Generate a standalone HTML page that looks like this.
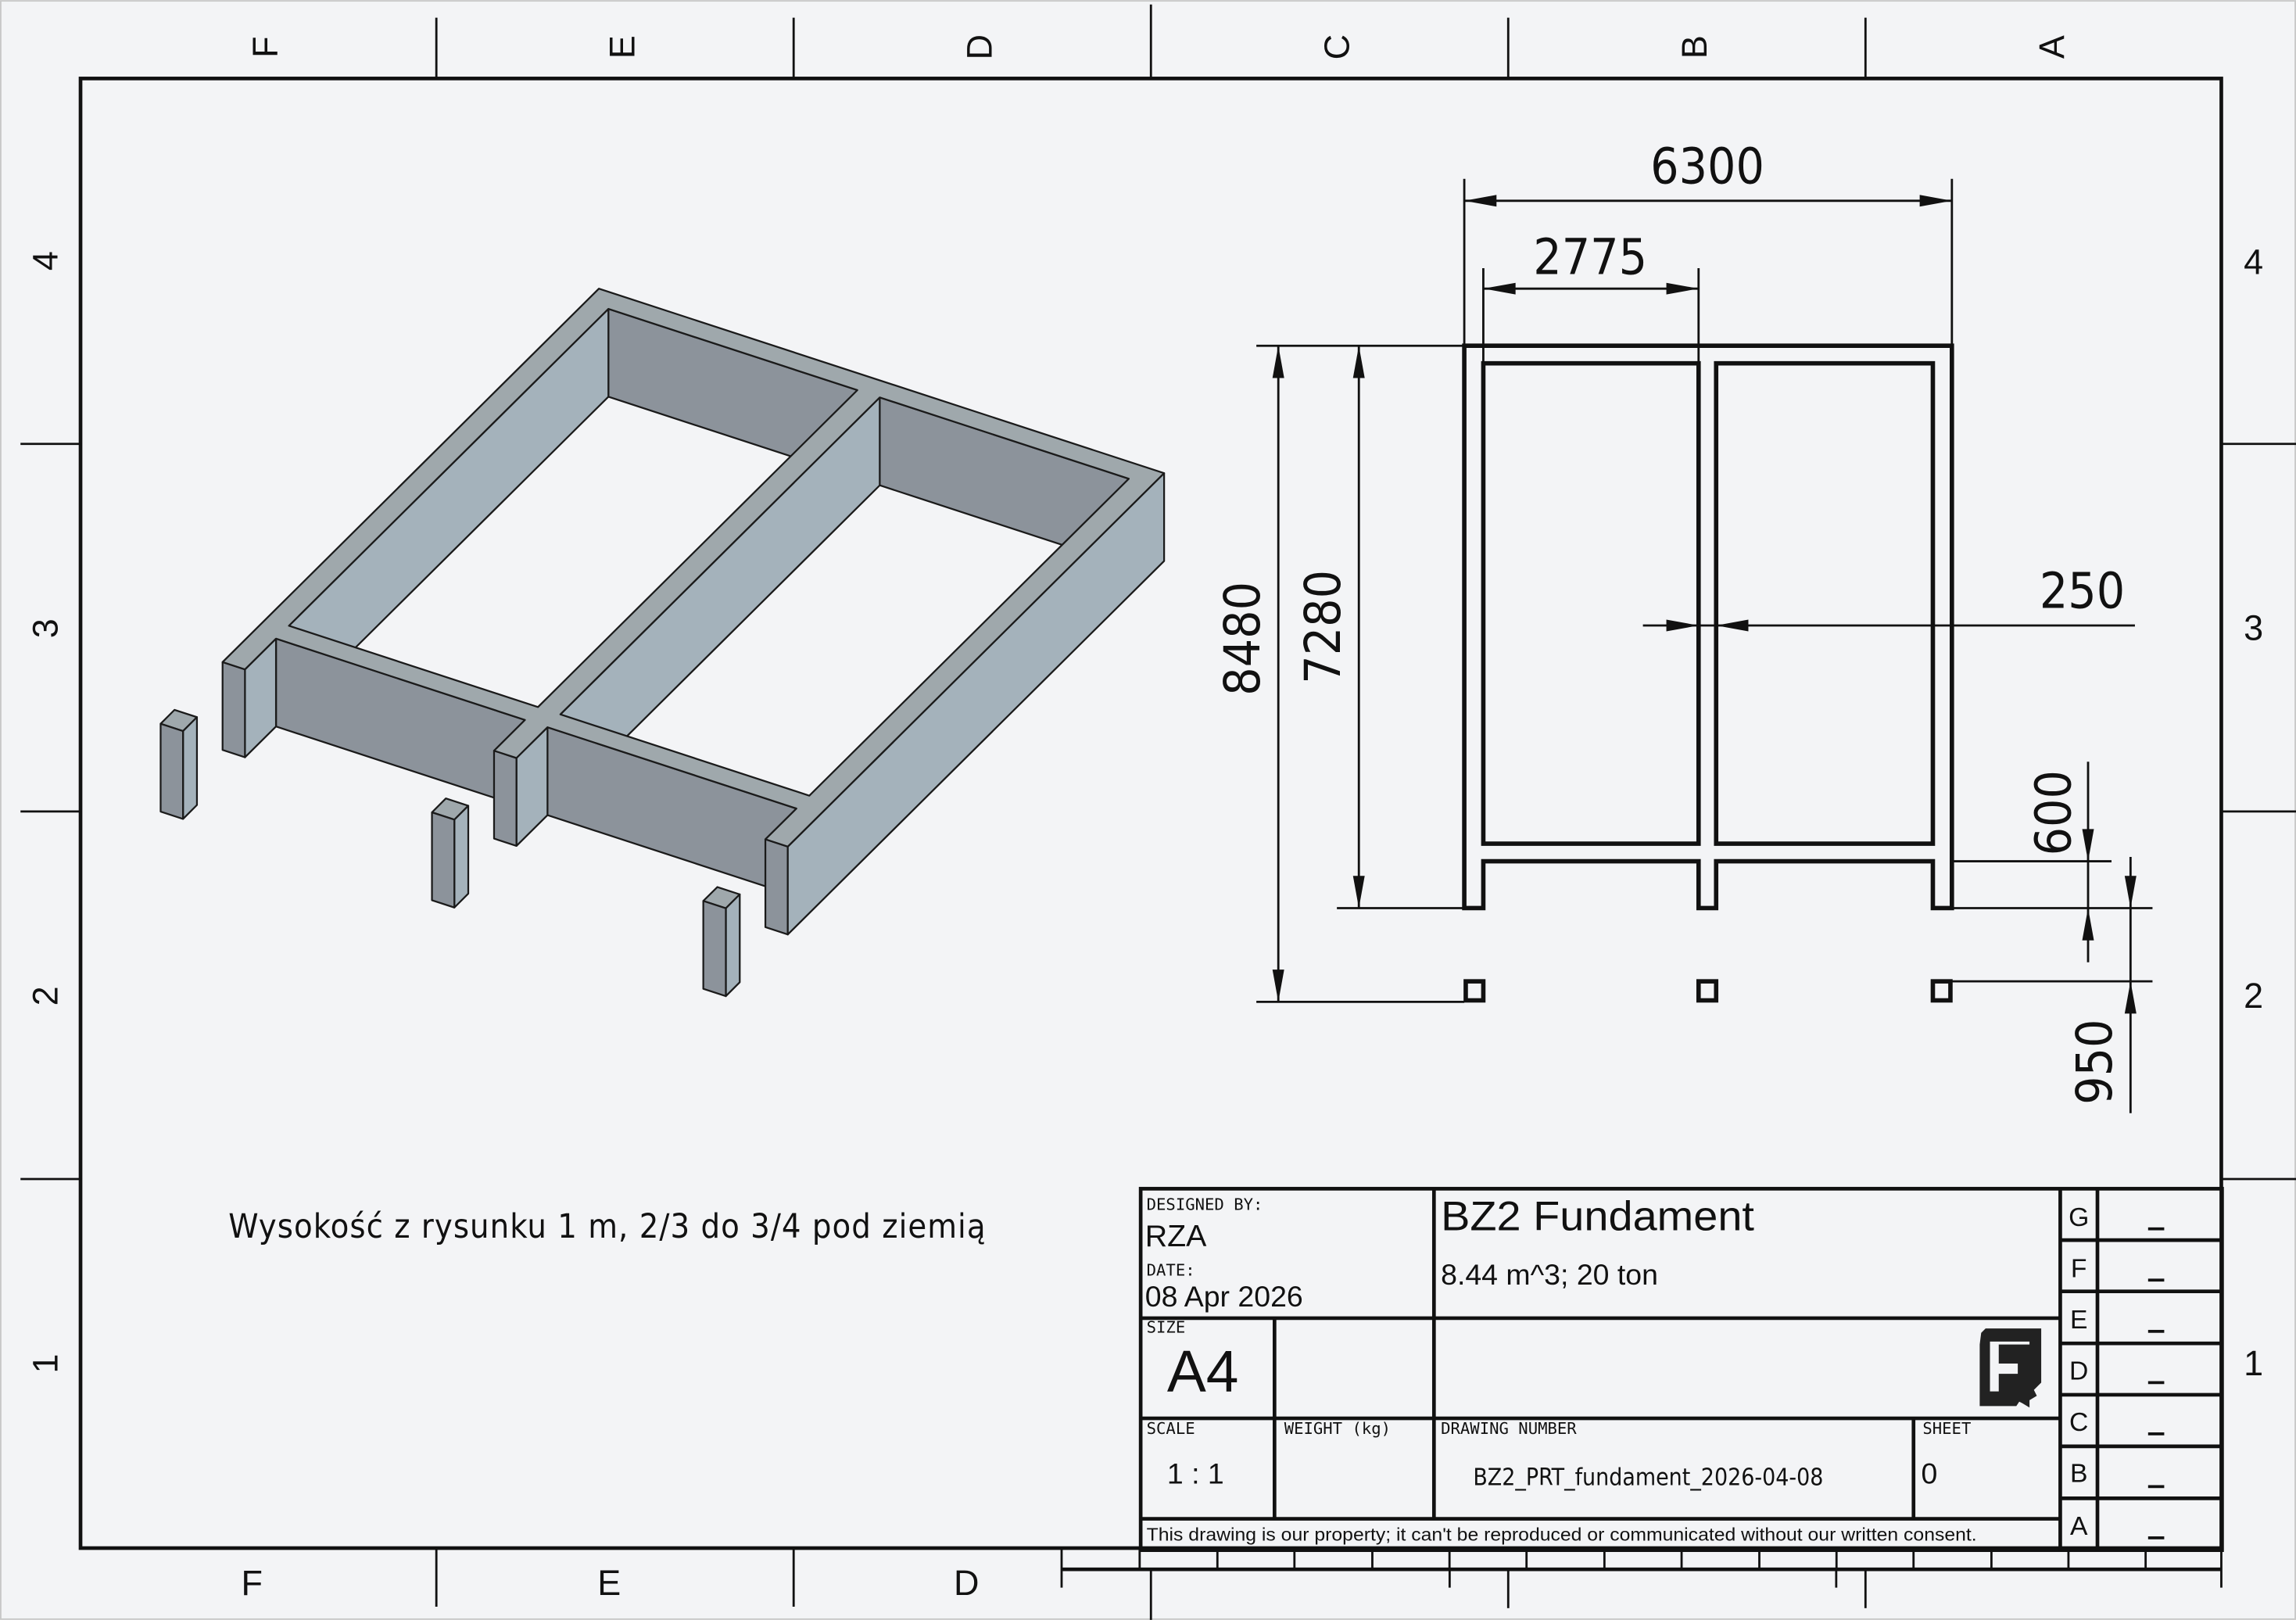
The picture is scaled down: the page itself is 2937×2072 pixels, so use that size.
<!DOCTYPE html>
<html><head><meta charset="utf-8"><style>
html,body{margin:0;padding:0;background:#f3f4f6}
svg{display:block}
.n{font-family:"DejaVu Sans Condensed","Liberation Sans Narrow","DejaVu Sans",sans-serif;fill:#111}
.s{font-family:"Liberation Sans",sans-serif;fill:#111}
.m{font-family:"DejaVu Sans Mono","Liberation Mono",monospace;fill:#111}
</style></head><body>
<svg id="sv" width="2937" height="2072" viewBox="0 0 1568 1106" xmlns="http://www.w3.org/2000/svg">
<rect x="0" y="0" width="1568" height="1106" fill="#f3f4f6"/>
<rect x="0.5" y="0.5" width="1567" height="1105" fill="none" stroke="#c8c8c8" stroke-width="1"/>
<g id="iso" stroke="#1a1a1a" stroke-width="1.2" stroke-linejoin="round"></g>
<!-- frame -->
<g stroke="#111" fill="none">
<rect x="55" y="53.5" width="1462" height="1003.5" stroke-width="2.5"/>
<g stroke-width="1.5">
<line x1="786" y1="3" x2="786" y2="53"/>
<line x1="298" y1="12" x2="298" y2="53"/><line x1="542" y1="12" x2="542" y2="53"/>
<line x1="1030" y1="12" x2="1030" y2="53"/><line x1="1274" y1="12" x2="1274" y2="53"/>
<line x1="14" y1="303" x2="55" y2="303"/><line x1="14" y1="554" x2="55" y2="554"/><line x1="14" y1="805" x2="55" y2="805"/>
<line x1="1517" y1="303" x2="1568" y2="303"/><line x1="1517" y1="554" x2="1568" y2="554"/><line x1="1517" y1="805" x2="1568" y2="805"/>
<line x1="298" y1="1057" x2="298" y2="1097"/><line x1="542" y1="1057" x2="542" y2="1097"/>
<line x1="725" y1="1057" x2="725" y2="1084"/>
<line x1="786" y1="1071" x2="786" y2="1106"/><line x1="1030" y1="1071" x2="1030" y2="1098"/><line x1="1274" y1="1071" x2="1274" y2="1098"/>
<line x1="990" y1="1071" x2="990" y2="1084"/><line x1="1254" y1="1071" x2="1254" y2="1084"/><line x1="1517" y1="1057" x2="1517" y2="1084"/>
</g>
<line x1="725" y1="1071.5" x2="1517" y2="1071.5" stroke-width="2.5"/>
<g stroke-width="1.5" id="ticks"></g>
</g>
<g class="s" font-size="24" text-anchor="middle">
<text transform="translate(183,32) rotate(-90)" dominant-baseline="middle">F</text>
<text transform="translate(427,32) rotate(-90)" dominant-baseline="middle">E</text>
<text transform="translate(671,32) rotate(-90)" dominant-baseline="middle">D</text>
<text transform="translate(915,32) rotate(-90)" dominant-baseline="middle">C</text>
<text transform="translate(1159,32) rotate(-90)" dominant-baseline="middle">B</text>
<text transform="translate(1403,32) rotate(-90)" dominant-baseline="middle">A</text>
<text transform="translate(33,178) rotate(-90)" dominant-baseline="middle">4</text>
<text transform="translate(33,429) rotate(-90)" dominant-baseline="middle">3</text>
<text transform="translate(33,680) rotate(-90)" dominant-baseline="middle">2</text>
<text transform="translate(33,931) rotate(-90)" dominant-baseline="middle">1</text>
<text x="1539" y="187">4</text><text x="1539" y="437">3</text><text x="1539" y="688">2</text><text x="1539" y="939">1</text>
<text x="172" y="1089">F</text><text x="416" y="1089">E</text><text x="660" y="1089">D</text>
</g>
<!-- plan -->
<path d="M1000,236H1333V620H1320V588H1172V620H1160V588H1013V620H1000Z M1013,248H1160V576H1013Z M1172,248H1320V576H1172Z" fill="none" stroke="#111" stroke-width="3"/>
<g fill="none" stroke="#111" stroke-width="3">
<rect x="1001" y="670" width="12" height="13"/><rect x="1160" y="670" width="12" height="13"/><rect x="1320" y="670" width="12" height="13"/>
</g>
<g stroke="#111" stroke-width="1.5" fill="none">
<line x1="1000" y1="122" x2="1000" y2="236"/><line x1="1333" y1="122" x2="1333" y2="236"/><line x1="1000" y1="137" x2="1333" y2="137"/>
<line x1="1013" y1="183" x2="1013" y2="248"/><line x1="1160" y1="183" x2="1160" y2="248"/><line x1="1013" y1="197" x2="1160" y2="197"/>
<line x1="858" y1="236" x2="1000" y2="236"/><line x1="858" y1="684" x2="1000" y2="684"/><line x1="873" y1="236" x2="873" y2="684"/>
<line x1="913" y1="620" x2="1000" y2="620"/><line x1="928" y1="236" x2="928" y2="620"/>
<line x1="1122" y1="427" x2="1458" y2="427"/>
<line x1="1333" y1="588" x2="1442" y2="588"/><line x1="1333" y1="620" x2="1470" y2="620"/><line x1="1333" y1="670" x2="1470" y2="670"/>
<line x1="1426" y1="520" x2="1426" y2="657"/><line x1="1455" y1="585" x2="1455" y2="760"/>
</g>
<g fill="#111">
<path d="M1000,137l22,-4v8z"/><path d="M1333,137l-22,-4v8z"/>
<path d="M1013,197l22,-4v8z"/><path d="M1160,197l-22,-4v8z"/>
<path d="M873,236l-4,22h8z"/><path d="M873,684l-4,-22h8z"/>
<path d="M928,236l-4,22h8z"/><path d="M928,620l-4,-22h8z"/>
<path d="M1160,427l-22,-4v8z"/><path d="M1172,427l22,-4v8z"/>
<path d="M1426,588l-4,-22h8z"/><path d="M1426,620l-4,22h8z"/>
<path d="M1455,620l-4,-22h8z"/><path d="M1455,670l-4,22h8z"/>
</g>
<g class="n" font-size="34" text-anchor="middle">
<text x="1166" y="125">6300</text>
<text x="1086" y="187">2775</text>
<text x="1422" y="415">250</text>
<text transform="translate(860,436) rotate(-90)">8480</text>
<text transform="translate(915,428) rotate(-90)">7280</text>
<text transform="translate(1414,555) rotate(-90)">600</text>
<text transform="translate(1442,725) rotate(-90)">950</text>
</g>
<text class="n" x="156" y="845" font-size="23" textLength="517" lengthAdjust="spacing">Wysokość z rysunku 1 m, 2/3 do 3/4 pod ziemią</text>
<!-- title block -->
<g stroke="#111" fill="none" stroke-width="2.5">
<rect x="779" y="811.6" width="738.5" height="246.8"/>
<line x1="779" y1="900" x2="1407" y2="900"/><line x1="779" y1="968.4" x2="1407" y2="968.4"/><line x1="779" y1="1037" x2="1407" y2="1037"/>
<line x1="979.3" y1="811.6" x2="979.3" y2="1037"/><line x1="870.4" y1="900" x2="870.4" y2="1037"/><line x1="1306.8" y1="968.4" x2="1306.8" y2="1037"/>
<line x1="1407" y1="811.6" x2="1407" y2="1058.4"/><line x1="1432.4" y1="811.6" x2="1432.4" y2="1058.4"/>
<line x1="1407" y1="846.7" x2="1517" y2="846.7"/><line x1="1407" y1="881.7" x2="1517" y2="881.7"/><line x1="1407" y1="917.2" x2="1517" y2="917.2"/>
<line x1="1407" y1="952.3" x2="1517" y2="952.3"/><line x1="1407" y1="987.5" x2="1517" y2="987.5"/><line x1="1407" y1="1023" x2="1517" y2="1023"/>
</g>
<g class="m" font-size="11">
<text x="783" y="826">DESIGNED BY:</text><text x="783" y="871">DATE:</text><text x="783" y="910">SIZE</text>
<text x="783" y="979">SCALE</text><text x="877" y="979">WEIGHT (kg)</text><text x="984" y="979">DRAWING NUMBER</text><text x="1313" y="979">SHEET</text>
</g>
<g class="s">
<text x="782" y="851" font-size="21">RZA</text>
<text x="782" y="892" font-size="20">08 Apr 2026</text>
<text x="984" y="840" font-size="28" textLength="214" lengthAdjust="spacingAndGlyphs">BZ2 Fundament</text>
<text x="984" y="877" font-size="20">8.44 m^3; 20 ton</text>
<text x="797" y="950" font-size="40">A4</text>
<text x="797" y="1013" font-size="20">1 : 1</text>
<text x="1312" y="1013" font-size="20">0</text>
<text x="783" y="1052" font-size="12.5" textLength="567" lengthAdjust="spacingAndGlyphs">This drawing is our property; it can't be reproduced or communicated without our written consent.</text>
</g>
<text class="n" x="1006" y="1014" font-size="16">BZ2_PRT_fundament_2026-04-08</text>
<g class="s" font-size="18" text-anchor="middle">
<text x="1419.7" y="837">G</text><text x="1419.7" y="872">F</text><text x="1419.7" y="907">E</text><text x="1419.7" y="942">D</text>
<text x="1419.7" y="977">C</text><text x="1419.7" y="1012">B</text><text x="1419.7" y="1048">A</text>
</g>
<g fill="#111"><rect x="1467" y="838" width="11" height="2"/><rect x="1467" y="873" width="11" height="2"/><rect x="1467" y="908" width="11" height="2"/><rect x="1467" y="943" width="11" height="2"/><rect x="1467" y="978" width="11" height="2"/><rect x="1467" y="1014" width="11" height="2"/><rect x="1467" y="1049" width="11" height="2"/></g>
<path d="M1353,910L1356,907H1394V944L1389,949L1391,953L1386,956V961L1381,958L1379,957L1377,960H1352V918Z M1359,916V950H1365V938H1378V931H1365V918H1386V916Z" fill="#222" fill-rule="evenodd"/>
</svg>
<script>
(function(){
var NS="http://www.w3.org/2000/svg";
function P(u,v,h){return [409+u*0.06127-v*0.0353, 197+u*0.02+v*0.03503-h*0.06];}
function poly(pts,fill,g){var p=document.createElementNS(NS,"polygon");p.setAttribute("points",pts.map(function(q){return q[0].toFixed(1)+","+q[1].toFixed(1)}).join(" "));p.setAttribute("fill",fill);g.appendChild(p);}
var g=document.getElementById("iso");
var L="#a4b2bb",D="#8c939b",T="#9fa8ac",H=-1000;
function fu(u,v0,v1){poly([P(u,v0,0),P(u,v1,0),P(u,v1,H),P(u,v0,H)],L,g);}
function fv(v,u0,u1){poly([P(u0,v,0),P(u1,v,0),P(u1,v,H),P(u0,v,H)],D,g);}
fv(250,250,3025);fu(250,250,6430);
fv(250,3275,6050);fu(3275,250,6430);
fv(6680,250,3025);fv(6680,3275,6050);
fu(250,6680,7280);fv(7280,0,250);
fu(3275,6680,7280);fv(7280,3025,3275);
fv(7280,6050,6300);
fu(6300,0,7280);
var o=[[0,0],[6300,0],[6300,7280],[6050,7280],[6050,6680],[3275,6680],[3275,7280],[3025,7280],[3025,6680],[250,6680],[250,7280],[0,7280]];
function path(a){return "M"+a.map(function(q){var p=P(q[0],q[1],0);return p[0].toFixed(1)+","+p[1].toFixed(1)}).join("L")+"Z";}
var d=path(o)+path([[250,250],[3025,250],[3025,6430],[250,6430]])+path([[3275,250],[6050,250],[6050,6430],[3275,6430]]);
var pe=document.createElementNS(NS,"path");pe.setAttribute("d",d);pe.setAttribute("fill",T);pe.setAttribute("fill-rule","evenodd");g.appendChild(pe);
[[0,250],[3025,3275],[6050,6300]].forEach(function(r){
var u0=r[0],u1=r[1],v0=8210,v1=8480;
poly([P(u0,v0,0),P(u1,v0,0),P(u1,v1,0),P(u0,v1,0)],T,g);
poly([P(u1,v0,0),P(u1,v1,0),P(u1,v1,H),P(u1,v0,H)],L,g);
poly([P(u0,v1,0),P(u1,v1,0),P(u1,v1,H),P(u0,v1,H)],D,g);
});
var t=document.getElementById("ticks");
[778.3,831.4,884,937.2,989.9,1042.5,1095.7,1148.4,1201.5,1254.2,1306.8,1360,1412.6,1465.3].forEach(function(x){
var l=document.createElementNS(NS,"line");l.setAttribute("x1",x);l.setAttribute("x2",x);l.setAttribute("y1",1058);l.setAttribute("y2",1071);t.appendChild(l);});
})();
</script>
</body></html>
